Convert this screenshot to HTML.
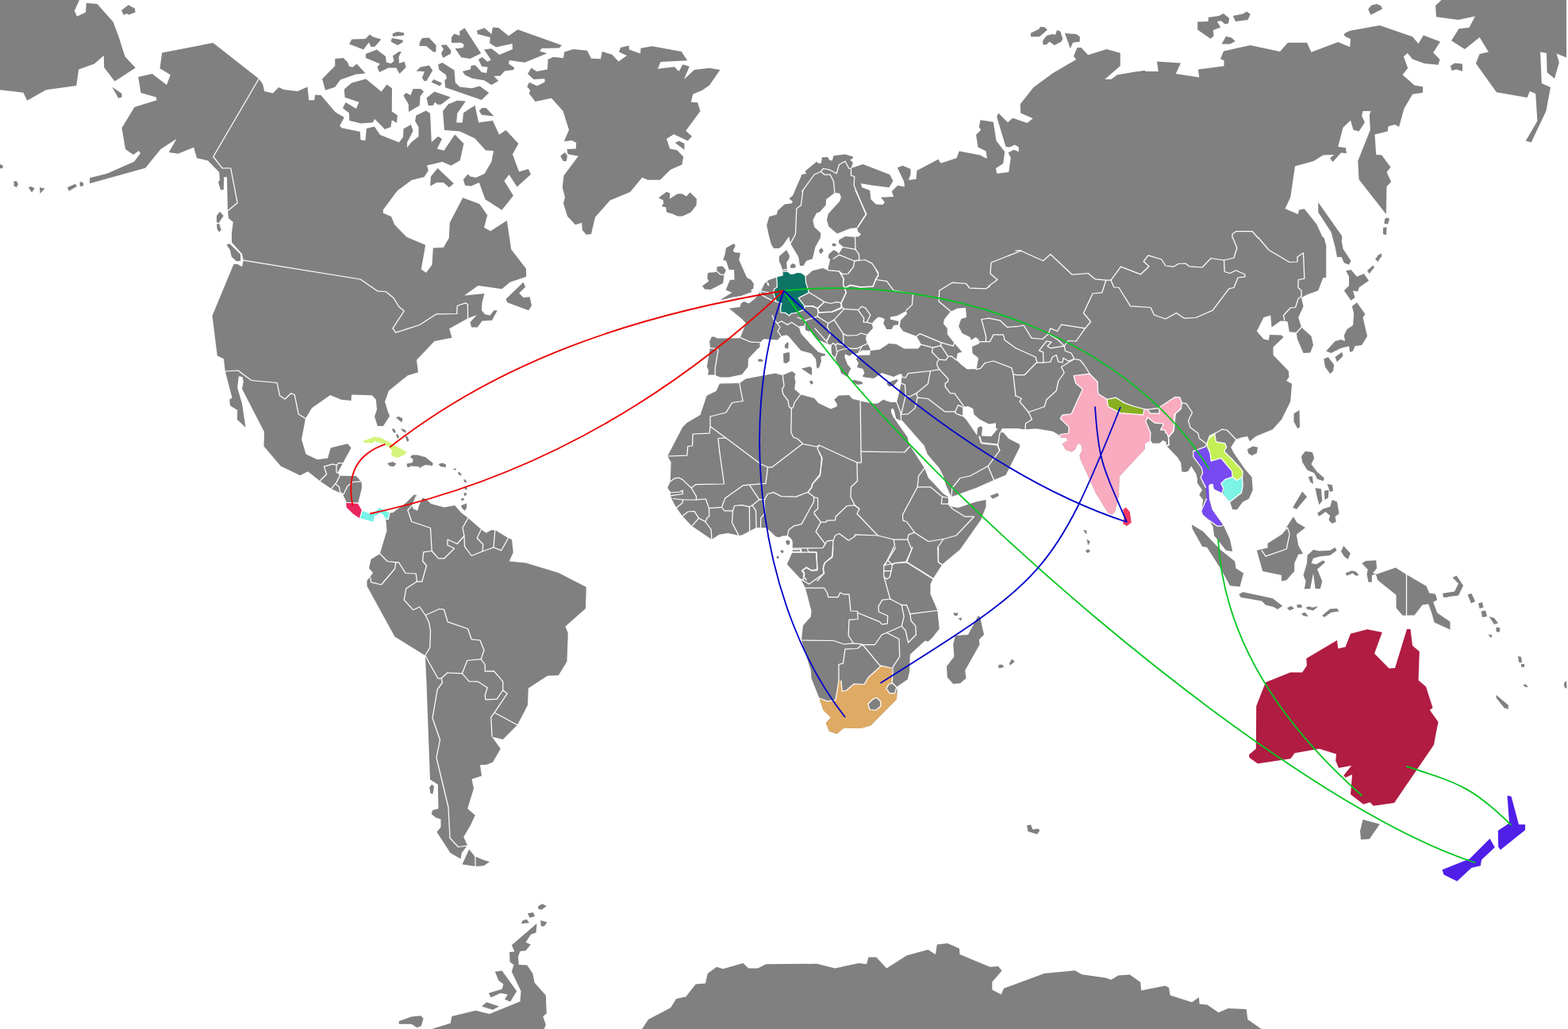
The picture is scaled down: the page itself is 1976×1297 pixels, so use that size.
<!DOCTYPE html>
<html lang="en"><head><meta charset="utf-8"><title>World travel map</title>
<style>html,body{margin:0;padding:0;background:#fff;overflow:hidden}svg{display:block}.l{fill:#808080}.h{fill:#fff}.b{fill:none;stroke:#fff;stroke-width:1.25;stroke-linejoin:round;stroke-linecap:round}.c{fill:none}</style></head><body>
<svg width="1976" height="1297" viewBox="0 0 1976 1297">
<rect width="1976" height="1297" fill="#fff"/>
<g id="land">
<polygon class="l" points="0,0 100,0 93.8,13.8 97,20.8 108,15.5 108.8,3.8 122.5,5 142.5,27.5 150,47.5 157.5,71.2 170.8,85.5 144.5,102.5 131.2,85 130.8,70 118.8,80.5 99.2,87.5 96.2,108 58,113.2 34.2,126.8 29.5,116.8 0,113.2"/>
<polygon class="l" points="153,13 161.8,6.2 170,10.8 170.5,15.5 162,18.8 160,17 155.8,19"/>
<polygon class="l" points="141.2,109.5 153.5,118 153.5,122.5 149.2,123.8"/>
<polygon class="l" points="85,236.2 95,231.8 96.8,235 86.8,240.8"/>
<polygon class="l" points="100.5,230 102.5,228.8 105.2,231.2 105,234.2 100.8,235"/>
<polygon class="l" points="50,236.2 56.5,237.5 50.5,244"/>
<polygon class="l" points="35.8,236.2 39.2,235 43.8,237.5 40,242.5"/>
<polygon class="l" points="17.5,228.8 20.5,228 23,232 20.8,236.2 17.5,234.2"/>
<polygon class="l" points="0,207 3.8,208.8 3.2,212 0,212.5"/>
<polygon class="l" points="326.2,99.2 268.5,54 204.2,66.5 201.5,86.2 214.8,94.2 210,107 191.8,93 174.2,97 177.5,117 196.8,122.5 197.5,126.2 169.5,135 153.5,161.2 158,188 168,195 175,190 177,193.2 169,203.8 135,218.8 113.2,224.2 113,231.2 183.2,211.8 202.5,188 222.5,175 212.8,192 224.5,193.8 244.2,185.8 248,199.2 262,202.5 276.2,217 277,227 275,229.5 278,239.2 281.8,239.2 282.2,223.2 286,223.2 287,265.8 287,265.8 299.2,255.8 290.8,212 280,211.8 268.8,197.5 326.2,99.2"/>
<polygon class="l" points="440,55.6 443.4,49.6 460.6,49 465.9,43.4 470,46.5 480.4,49.4 472.5,58.8 467.5,59 464.8,53.5 458.1,62.5"/>
<polygon class="l" points="494.6,42.5 500.6,40 508.8,41.2 509.4,44.6 495.2,45.9"/>
<polygon class="l" points="494,48.1 507.5,50.4 507.8,53.1 501.2,56.9 492.5,52.5"/>
<polygon class="l" points="460.9,68.1 474.8,62.5 485.9,71 486.9,78.8 492.8,80 496.5,76.9 495,70.6 502.5,65.2 505.9,65 502.5,71.5 503.1,79.8 509.8,77.8 511.6,84.8 503.5,92.9 499.4,85.6 489.4,85.6 478.1,90.9 475.4,84.6 479,80.6 460.9,72.9"/>
<polygon class="l" points="406,99.4 422.2,83.1 422.2,74 432.5,73.1 438.1,78.5 440.2,83.8 444.4,84.8 449.6,80.6 460.6,92.5 448.1,93.8 429,100.6 422.2,109.8 410,113.8"/>
<polygon class="l" points="433.8,112.5 443.1,104.4 461.2,99.4 480.6,115.6 487.5,106.6 494,111.2 493.8,140.6 500.9,145.4 500,155 493.8,151.2 492.5,160 485,162.9 472.2,150 469.8,154.4 454.4,155.6 440.2,151.9 440,142.5 431.9,136.2 435.6,129.1 448.8,137.1 452.5,128.8 434.6,122.8"/>
<polygon class="l" points="508.4,120.6 511.9,116.9 517.5,120 520.6,112.1 530,111.9 534.1,115.2 529.6,121.2 528.8,133.1 515,141 514.8,131.2"/>
<polygon class="l" points="537.5,123.4 547.5,115.6 567.9,122.5 556.2,131.6 551.9,132.1 548.1,128.8 545.6,132.9 539.8,133.1"/>
<polygon class="l" points="524.4,89.4 530,84.4 540.9,82.5 545.2,88.8 537.5,101.9 534.4,102.1 531.9,98.1 535,90.2"/>
<polygon class="l" points="543.8,103.8 546.2,100 556.9,104.6 554.6,108.5"/>
<polygon class="l" points="528.5,58.1 528.8,53.8 531.9,48.1 540.6,47.5 549.6,57.1 549.4,65.6 546.2,65.6 537.1,57.9"/>
<polygon class="l" points="555.6,57.1 562.5,56.2 568.4,63.8 568.1,67.5 558.4,73.1 556,67.1 559,61.9"/>
<polygon class="l" points="552.1,81.2 557.5,79 572.5,88.5 573.8,104 579.4,109.4 594.4,111.2 604.4,108.5 616.2,116.9 606.9,126 561.2,110.2 560.4,101.2 562.9,98.8 562.1,94.6 553.4,88.1"/>
<polygon class="l" points="569,46.9 572.5,42.5 579.4,45 579.1,39.4 585.6,35.2 606.2,67.2 592.5,74 581.2,72.2 573.5,61.2 583.4,60.2 584.8,56.2 581.2,53.8 569.1,54"/>
<polygon class="l" points="600.9,38.8 610.6,35.2 619.4,42.9 620.9,34.6 628.4,35 640.9,45.2 652.5,37.2 707.9,56.9 704.8,60.6 682.5,60.9 680,64.4 689.6,67.2 661.2,78.8 641.9,76 641,80.6 647.9,85 647.5,88.1 636,89.6 630.6,95.4 622.5,95.9 628.1,102.1 619.4,107.1 610,101.2 595,98.8 585.9,94.4 582.9,90 593.1,87.2 593.4,83.1 598.8,82.1 606.9,91 613.1,92.1 614.6,84.6 607.1,83.8 602.9,75 607.5,72.1 614.4,77.8 618.8,75.6 610,62.5 619.4,61.2 629.4,69 645.9,61.9 645.6,55 625.2,59.4 617.1,54.4 617.8,46.9 601.9,43.1"/>
<polygon class="l" points="558.1,140 565,131.2 576.2,126.8 586.8,127.5 576.2,143.1 575.2,154.4 582.8,154.4 584,142.2 598.5,132.8 603.1,154.4 620.9,152.1 629.1,169.8 637.5,164.1 653.4,180.9 645.9,194.4 654.1,216.6 665.9,213.1 669,219.8 651.5,235.4 641.6,220 635.4,227.9 646.9,246.6 632.5,264.8 611.5,251.2 603.8,230 593.8,234.4 586.2,233.8 583.8,226.6 589.6,219.4 592.5,222.5 600,223.8 610.6,219.1 619.4,203.8 622.1,190 612.1,189.6 598.5,174.4 579.4,165.4 560,164.1"/>
<polygon class="l" points="603.8,139.4 607.5,135.9 612.5,136 622.5,146.6 606.9,144.8"/>
<polygon class="l" points="542.1,234.4 542.9,222.5 551.5,211.9 571.9,231.2 566,236.2 558.8,230 550.6,230"/>
<polygon class="l" points="711.2,65.5 722.5,62 740,63.8 745,73.8 757,74.2 758.8,65 771.2,68.8 779.5,77.5 790,70 780,65.5 782,60 792.5,57.5 793,62.5 807,67.5 807.5,60.8 822,58.2 858.8,65 866.2,76.2 832.5,78 828.8,86.8 850,84.2 855.5,90 860.5,81.2 868.8,83.8 862,100 875,88 894,85.8 907.5,88 894,107.5 885,113.8 873.2,118.8 870.8,128.8 879.2,129.2 882.5,140 864.2,165 872,171.8 866.8,177.5 849.2,169.2 840,175 844.2,187.5 853.2,189.2 861.2,197.5 859.5,207.5 845,213.8 832,226.8 816.2,226.8 809.2,223.8 794.2,242 768.8,252.5 750,273.8 745,295 738.8,295.8 733.8,290 733.2,280.8 725,283.2 715,272.5 710,256.2 712,248.8 708.8,236.2 710.5,221.2 728.8,196.8 715.5,194.2 714.5,188 725.8,187.5 726.2,180 720.8,177 710.8,178.2 717,163.8 709.5,140 695,123.8 674.5,128 666.8,118 668.2,113.8 664.2,109.2 667,103.8 676.8,108.2 686.8,103.2 686.2,99.2 672.5,100 665,93 669.5,85.5 676.2,90 690,87.5 690.5,75 697.5,71.8 710,73.2"/>
<polygon class="l" points="850.8,180 855.5,177.8 862.5,180.8 862.5,188.8"/>
<polygon class="l" points="706.2,196.8 711.8,192 715,196.2 713.8,203 710,203.2"/>
<polygon class="l" points="830,249.2 840,241.8 844.5,243.8 843.8,250.8 853.8,244.2 859.5,244.2 865,247.5 869.5,242.5 878,250.8 877.5,258.8 870.8,267.5 860,272.5 853.8,272.5 847.5,269.5 840,267.5 839.2,261.2 833.8,260 836.2,256.2 835.8,252.5"/>
<polygon class="l" points="287,265.8 299.2,255.8 290.8,212 280,211.8 268.8,197.5 326.2,99.2 331.2,106.2 333.2,115 343.8,117.5 351.2,110 357.5,113 375,115 387.5,109.5 389.2,126.2 396.2,126.2 397,119.5 404.5,120 422.5,141.2 433.8,148.1 428.1,158.4 430.6,161.2 453.8,166 454.4,176.2 460.4,177.2 461.9,161.9 471.9,159.4 479,170 502.9,179.4 508.1,172.5 508.4,162.5 517.8,157.1 520.6,165 513.1,179.4 513.1,186 518.1,179.4 527.5,171.9 527.5,160 523.1,152.5 524.4,145.6 536.9,139.4 542.1,143.1 543.8,179.1 552.1,172.1 557.1,175 550.9,187.5 559.6,189.8 573.1,169.4 584.4,181 579.8,202.2 568.5,208.8 557.5,204.1 538.1,208.4 539.8,215 534.6,222.9 518.8,226.9 500.6,240.6 482.8,264.4 482.8,268.5 493.1,272.9 497.1,283.1 512.5,298.8 536.2,308.8 530.8,339.5 537,343.8 544.5,333.8 545.8,312.5 558.8,312 565.8,300 566.8,280.8 583.2,249.2 604.2,257 614.2,271.2 610,286.8 618.2,291.2 638.8,278 644.2,314.2 663,338.8 663.2,348.8 642.5,355.8 632.5,364.2 602.5,360 585,372.5 610.5,370 607.5,381.2 607,391.2 611.2,396.2 617.5,397.5 622.5,391.2 626.8,391.2 620,403.8 607.5,404.5 601.8,412.5 594.2,412.5 592.5,406.2 600.8,397 589.5,401.2 589.5,383.8 586.8,381.8 576.2,385.5 575.8,395.5 550,395.8 528.8,409.5 498.8,419.2 495,413.8 509.2,392 502.5,386.2 496.2,375.8 486.2,367.5 475.5,366.8 454.2,352 306.8,328.2 306.8,328.2 305,320 292,305.5 292,293.8 293.8,280 288,275 287,265"/>
<polygon class="l" points="306.8,328.2 454.2,352 475.5,366.8 486.2,367.5 496.2,375.8 502.5,386.2 509.2,392 495,413.8 498.8,419.2 528.8,409.5 550,395.8 575.8,395.5 576.2,385.5 586.8,381.8 589.5,383.8 589.5,401.2 589.5,401.2 566.2,414.2 569.5,425.8 547.5,430 525,453.8 527,469.2 513.8,473.2 490,492.5 485,506.2 488.8,518.8 491.2,524.2 483,537 475.8,537 472,525 475,516.2 473.8,503.8 468.8,498.2 443,497.5 442.5,505 430,503.8 416.2,498 393,514.2 385,527.5 385,527.5 376.2,522 371.2,497.5 366.8,495.8 359.2,503 352.5,498.8 349.2,482.5 316.8,479.5 300,467 283.8,468 283.8,468 282,452.5 273.8,448.2 267.5,398 294.5,333 299.5,333 305,336.2 306.8,328.2"/>
<polygon class="l" points="285.5,308.8 289.2,307 303,320.5 303.2,328.8 298,329.2 291.8,323.8 290,315"/>
<polygon class="l" points="273,272 277,266.8 281.8,272 277.5,278 275.8,281.2 273,280"/>
<polygon class="l" points="273,282.5 276.2,282 278.8,290 276.2,292.5 273.8,289.2"/>
<polygon class="l" points="637.5,377 659.5,355.8 662,361.8 654.2,369.5 659.5,375 667.5,374.2 670,385 666.2,391.2 639.2,381.2"/>
<polygon class="l" points="283.8,468 292.5,501.2 289.2,503.8 290,511.2 299.2,517 298.8,528.8 309.5,538.8 305,508.8 299.2,488.8 300.8,474.2 305.5,475 306.8,481.2 305,490 333,544.5 332.5,562.5 353.8,587.5 378.2,599.2 388,594.2 403.1,606.2 411.6,597.8 408.4,588.1 419.4,584.8 424,586.5 426.9,583.5 432.1,583.8 442.5,564.5 438,559.2 416.8,564.5 413,577.5 400,579.2 385.5,572.5 380,553.8 385,527.5 376.2,522 371.2,497.5 366.8,495.8 359.2,503 352.5,498.8 349.2,482.5 316.8,479.5 300,467 283.8,468"/>
<polygon class="l" points="403.1,606.2 417.5,615.9 432.1,623.1 436.9,633.8 451.2,634 456,615 455.6,607.5 448.8,600 427.8,599.8 425.6,595.6 432.1,583.8 426.9,583.5 424,586.5 419.4,584.8 408.4,588.1 411.6,597.8 403.1,606.2"/>
<polygon class="l" points="488.1,584 495,582.1 499.4,584.4 496.2,587.9 491.2,587.5"/>
<polygon class="l" points="516.9,576.2 519.4,573.5 526.2,573.5 536.2,576.2 545.6,583.8 545,586.9 536.2,586 530.6,588.4 529.1,590.4 527.8,587.9 516.9,587.5 516.5,588.8 513.1,588.8 512.5,584.4 520,583.1 520.6,578.8"/>
<polygon class="l" points="552.5,585 557.5,583.4 561.9,585.2 561.9,589 555,588.1"/>
<polygon class="l" points="570.9,591.2 575,590 573.8,593.1"/>
<polygon class="l" points="578.1,594.4 581.9,597.8 580,599.8 576.9,596.2"/>
<polygon class="l" points="584,604.4 586.9,604.4 588.1,608.1 585.6,608.1"/>
<polygon class="l" points="585,613.8 588.1,613.8 588.8,616.9 586.2,617.5"/>
<polygon class="l" points="584.4,621.2 587.5,621.2 588.1,624 585,625"/>
<polygon class="l" points="580.6,629 584.4,627.5 585,630 581.9,631.2"/>
<polygon class="l" points="581.2,636.9 588.1,634.4 588.1,640 585.6,643.8 581.9,640"/>
<polygon class="l" points="493.8,541.2 496.2,540 498.8,543.8 496.9,546.2"/>
<polygon class="l" points="498.8,548.1 501.2,546.9 503.1,551.2 501.2,553.1"/>
<polygon class="l" points="505,540 511.2,541.9 511.9,545.6 507.5,543.8"/>
<polygon class="l" points="510.6,550 513.1,549.4 515.6,555 513.1,556.9"/>
<polygon class="l" points="498.8,526.2 502.5,525 507.5,527.5 506.2,532.5"/>
<polygon class="l" points="491,646.5 495,646.2 512.5,633.1 521.9,623.5 526.2,624 519.4,636.9 520.6,641.2 526.2,643.8 528.1,636.9 532.5,627.5 537.5,629.4 543.1,635 560,639.4 573.1,636.9 581.2,646.2 590,653.1 606.2,667 612.5,671.8 619.5,668 625,668.8 640.5,678.2 645,680 646.8,696.2 641.8,707.5 662.5,709.5 703.8,722 738.8,740 738,767 712.5,789.5 715.8,798 714.5,833.8 703.8,851.2 690,851.8 665.8,867.5 665,888.8 652,913.8 633.8,932 620,928.8 630.8,943.8 621.2,960.5 613.8,963.8 605,964.2 607,978 594.5,982 597,993.8 589.2,1019.2 598.8,1027.5 593,1040 584.2,1055 589.2,1065.8 587.5,1067.5 581.8,1075 580.5,1082.5 567.5,1075 550.5,1048.8 555.5,1042.5 555.5,1032.5 549.5,1030.8 543.8,1026.2 545,1021.2 552.5,1019.2 551.8,988.8 542,982.5 538.2,880 537.5,860 535.8,826.2 497.5,802.5 462.5,738.8 462.5,731.8 466.2,727.5 470,722 465,716.2 467.5,705 478.8,698 487.5,668.8 486.2,654.2"/>
<polygon class="l" points="582.5,1089.5 591.2,1070.5 598.2,1079.2 608.8,1083.8 617,1086.2 609.5,1091.2 600,1092"/>
<polygon class="l" points="541.2,992.5 544.2,988.8 547,991.2 545.5,1000.8 542.5,1000"/>
<polygon class="l" points="678,1142.5 683.2,1139.2 688.8,1142 682.5,1146.8 678.2,1145.5"/>
<polygon class="l" points="665,1151.2 671.8,1150 674.2,1155 667.5,1156.8"/>
<polygon class="l" points="656.8,1164.2 658.8,1160 663.8,1158.8 666.8,1163.2"/>
<polygon class="l" points="681.2,1160 689.5,1162.5 685.8,1167.5 681.8,1167.5"/>
<polygon class="l" points="841.2,575 860,538.8 865.6,533.1 882.5,523.1 890.6,498.8 902.5,493.1 906.9,483.5 931.9,483.1 940,477.5 976.9,470.4 983.8,472.5 987.2,472.5 998.1,468.1 1002.5,471.2 1001.2,475.6 1002.5,481.2 1001.2,490.6 1008.8,497.2 1026.2,501.9 1031.2,508.1 1046.9,515.6 1054.4,512.5 1055,509.4 1051.2,503.8 1056.9,498.5 1070,498.1 1074.4,503.1 1084.4,505 1084.4,505.6 1101.2,508.8 1106.2,508.5 1113.1,503.8 1121.9,506.9 1130,506.9 1135,520 1135.6,530 1135,530 1129.4,527.5 1126.9,518.1 1125.6,515 1123.1,515.6 1123.1,520 1125.6,525.6 1143.8,551.2 1145,557.5 1146.9,562 1165,590 1170,602.5 1175,607.5 1188.8,622.5 1195,626.2 1195,635 1200,638.8 1207.5,640 1230,632.5 1242.5,630 1242.5,638.8 1236.2,655 1210,692.5 1187.5,711.2 1176.2,728.8 1172.5,736.2 1172.5,748.8 1181.2,768.8 1183.8,792.5 1175,803.8 1169.5,808.8 1165.8,807.5 1146.8,825 1146.2,846.2 1143.8,856.2 1130.5,865.5 1130.5,872.5 1130,881.2 1097.5,914.2 1085,918 1063,918 1054.5,925 1045,921.8 1040.8,911.2 1047,904.5 1037.5,895 1032.5,880 1022.5,855 1021.8,845 1010,807 1012,788.2 1021.8,777.5 1022.5,770 1015,741.2 1009.2,730 991.8,711.2 998.8,695.6 998.8,682.5 996.9,678.8 992.5,675 986.2,675.6 981.9,677.2 977.5,676.2 971.2,670 965.6,665.2 953.1,665 944.4,669.4 935,674.4 931.2,675 917.5,671.9 906.2,673.8 896.9,680 871.9,663.1 860,650.6 852.5,640 848.8,633.8 845,625 845,620 841.2,615 844.8,606.9 845.6,582.5 841.2,575"/>
<polygon class="l" points="990,682.5 992.5,680.6 995.6,681.9 995,686.2 991.9,686.9"/>
<polygon class="l" points="983.1,694.4 986.2,693.1 987.8,695.6 985.6,697.5"/>
<polygon class="l" points="978.1,701.9 980.6,700.6 981.9,702.5 980,704.8"/>
<polygon class="l" points="1232.5,776.2 1235,777.5 1240,800 1233.8,806.2 1234.5,812.5 1216.2,845 1217.5,855 1210,861.2 1201.2,862 1193.8,853.8 1193,840 1202.5,827.5 1201.2,812.5 1203.8,801.2 1220,800 1230,781.2"/>
<polygon class="l" points="1201.2,772.5 1207.5,772.5 1206.2,776.2 1202.5,775.8"/>
<polygon class="l" points="1207.5,779.5 1212,778.2 1211.2,782.5"/>
<polygon class="l" points="1258,838.2 1262.5,837.5 1265.5,840.8 1258.8,842.5"/>
<polygon class="l" points="1272,836.2 1275,830.8 1278.8,833.8 1273,838.8"/>
<polygon class="l" points="1368,694.5 1371.2,692 1373.8,694.5 1370.8,696.8"/>
<polygon class="l" points="1085,295 1082.5,298.1 1077.5,298.8 1065,298.1 1057.2,302.5 1056.9,306.2 1062.5,311.2 1056.9,320 1055,317.5 1050.6,315 1044.4,320.6 1043.8,325 1046.2,326.9 1043.1,340.6 1036.9,338.1 1023.8,341.2 1016.9,347.5 1015,347.5 1010,343.8 1005,343.1 1000,345 996.2,345 992.5,341.9 991.9,339.4 991.2,330.6 994.4,326.2 995,322.5 991.2,315 981.9,323.1 981.9,329.4 983.8,333.1 986.2,340.6 986.9,347.5 978.8,349.4 968.8,353.1 963.8,356.9 958.8,366.9 958.1,367.5 952.5,375.6 943.8,382.5 937.5,380 933.8,382.5 932.5,386.9 918.8,388.8 935,402 940,407.5 933.1,425 931.9,426.2 903.8,426.5 900.2,424.4 896.9,424.6 894.1,430.6 895,438.1 891.2,460 890.6,461.2 893.1,467.5 891.9,472.5 900.6,472.5 907.5,475.6 918.8,475.6 935,471.9 942.5,462.5 943.1,451.9 954.4,440 957.5,437.5 957.5,431.9 962.5,427.2 980,428.5 984.4,423.8 991.2,422.2 994.4,424.4 1009.4,441.9 1022.5,445.6 1028.1,452.5 1029.4,464.4 1032.5,463.1 1035,455 1034.4,449.4 1040,448.1 1040.6,446.5 1031.2,443.8 1022.5,435 1009.4,420.6 1006.9,412.5 1006.9,411.2 1014.4,410.6 1015,416.2 1018.8,417.5 1021.2,417.5 1028.8,427.5 1040,431.9 1042.5,433.8 1048.1,434.4 1047.5,438.8 1048.1,446.2 1052.5,451.2 1058.8,466.2 1060,470.6 1068.1,475 1070,468.8 1072.5,464.4 1068.1,459.4 1064.4,450 1065,446.2 1070.6,448.8 1073.8,446.2 1081.9,445 1086.2,441.5 1096.9,441.5 1096.2,438.8 1093.1,433.1 1091,427.5 1091.9,422.5 1100,413.8 1098.8,408.1 1101.9,403.8 1106.9,399.4 1111.9,400.6 1115,402.5 1113.1,407.5 1117.5,415 1123.8,415 1126.2,410 1131.9,409.4 1132.5,405 1121.9,402.5 1121.9,399.4 1130.6,398.1 1141.9,391.9 1143.1,395.6 1135,403.8 1133.8,411.2 1138.1,417.5 1155,423.8 1200,400 1200,300 1085,295"/>
<polygon class="l" points="1085,295 1081.2,291.9 1080,286.9 1071.2,288.1 1055,294.4 1044.4,285.6 1041.9,276.9 1043.8,269.4 1058.1,253.8 1060,248.8 1058.1,243.8 1051.9,243.1 1041.2,251.2 1040.6,258.8 1033.1,266.9 1028.8,268.8 1024.4,277.5 1026.2,286.2 1034.4,293.8 1033.8,300 1027.5,311.2 1023.8,326.2 1016.2,328.8 1012.5,335 1008.1,335 1006.2,323.8 996.2,306.9 994.4,298.1 986.2,309.4 981.9,312.9 975,313.1 971.9,308.1 968.8,296.2 966.2,283.8 969.4,273.1 978.8,270.6 980,265.6 988.8,257.5 998.1,256.2 998.8,253.8 994.4,250.6 999.2,246.2 1010.5,220 1016.2,218.8 1014.5,215.8 1029.2,203.8 1031.8,206.2 1035,205.5 1035.8,198.2 1043,198 1045.5,202 1048.8,202.5 1050.5,196.2 1065,194.5 1075,197.5 1074.5,200 1071.2,201.2 1075,205 1072.5,212 1087.5,207 1121.2,220 1125.5,228 1120.5,236.2 1100,233.8 1085,231.2 1086.2,236.2 1096.2,240 1097.5,251.2 1103.8,257.5 1112.5,258 1115,255 1110,248.8 1126.2,248 1123.8,241.2 1131.2,233.8 1140,235.5 1139.2,228.8 1130.8,211.2 1137.5,208.8 1147.5,213 1147.5,220 1145,227 1154.5,225.8 1155.5,215 1182.5,200.8 1185.5,205.8 1205.5,199.2 1208.8,190.5 1235,195.5 1243.8,200 1242.5,190.5 1232.5,185.5 1230,170 1236.2,163.8 1233.8,160 1235.5,151.2 1251.8,153.8 1255.5,177.5 1266.2,191.2 1264.2,206.2 1255,212 1256.2,218.8 1271.2,217 1273.8,198.8 1270.5,192.5 1277.5,188.8 1283.8,191.2 1283.8,185.5 1278.8,182.5 1272.5,185.5 1267.5,185 1256.2,147.5 1258.2,142.5 1270,154.2 1276.2,148.8 1294.5,155 1301.8,149.2 1286.2,142.5 1285.8,131.2 1302.5,110 1327.5,91.8 1356.2,75 1353,70.8 1357.5,60 1362.5,60 1371.2,69.2 1394.5,62 1411.8,66.8 1411.8,83 1385,106.2 1386.2,114.2 1393.8,113.8 1394.5,106.2 1407.5,94.5 1434,90 1465,90 1465,350 1090,350"/>
<polygon class="l" points="1298.8,41.8 1308.8,37 1311.2,33.8 1316.2,34.2 1320,37.5 1310,46.2 1299.2,46.2"/>
<polygon class="l" points="1314.2,51.2 1318.8,45 1326.2,43 1330,43.8 1332,38 1336.2,39.5 1339.2,48.8 1337.5,52.5 1328.8,57 1322.5,52.5 1318.8,56.2 1314.2,56.2"/>
<polygon class="l" points="1342,42 1356.2,43 1360.8,46.2 1360.8,52.5 1352,53.8 1348.8,61.2"/>
<polygon class="l" points="885,360.6 893.1,354.4 891.2,350 892.2,343.8 901.9,343.1 903.1,336.2 910.6,335.6 914.8,340.6 912.5,346.2 911.2,356.9 895.6,365 888.1,364.4"/>
<polygon class="l" points="915,312.5 924.8,307.1 926.9,309.6 923.8,315.6 925.2,318.1 933.1,318.8 931.2,327.5 941.2,350 946.2,352.5 949.8,357.5 949.4,363.8 946.2,365.6 947.5,368.1 933.8,373.1 923.8,374.4 910,378.1 908.8,377.2 922.5,368.8 914.6,365.6 919.8,353.1 925.6,352.5 925,340 918.8,340 915,328.8 911.2,328.1 913.8,320"/>
<polygon class="l" points="995.6,335 998.8,331.9 1002.5,333.8 1002.5,337.5 996.9,338.1"/>
<polygon class="l" points="1031.9,315.6 1035.6,312.2 1037.8,316.2 1034,320.4"/>
<polygon class="l" points="1048.1,308.1 1050.6,306.6 1054.4,308.1 1052.5,310.6 1049.4,310.2"/>
<polygon class="l" points="987.1,445.6 994.4,443.8 995.2,446.9 995,455 991.2,458.1 987.5,457.2"/>
<polygon class="l" points="988.8,435 992.5,431 993.8,433.1 993.1,439.4 989.4,438.8"/>
<polygon class="l" points="1010,464.4 1020.6,462.1 1023.1,463.8 1023.1,473.1 1018.8,470.6"/>
<polygon class="l" points="1020,480.6 1023.1,479.6 1025,483.1 1021.9,484.8"/>
<polygon class="l" points="955,453.1 958.1,452.2 962.2,454 960,455.9 955.6,455.6"/>
<polygon class="l" points="1073.8,480 1076.2,478.8 1086.2,481.2 1087.5,483.8 1081.2,485 1075,482.5"/>
<polygon class="l" points="1117.1,483.1 1130,478.1 1131.9,479.4 1126.2,486.2 1120,487.1"/>
<polygon class="l" points="1155,423.8 1161.2,434.4 1156.9,439.4 1139.4,439.4 1129.4,433.8 1120,433.1 1108.8,440.6 1096.9,441.9 1096.2,447.5 1082.5,447.8 1078.8,452.5 1081.9,457.5 1080,463.1 1087.5,465 1089.4,470 1086.9,474.4 1090,475.6 1101.2,476.9 1111.2,470 1126.2,475 1133.8,471.2 1136.9,471.9 1135.6,483.1 1133.1,495 1130,506.9 1135,520 1135.6,530 1136.9,530 1165,562 1165,562.5 1168.8,572.5 1175,580 1183.8,590 1188.8,600 1192.5,612.5 1198.8,626.2 1230,615 1252.5,605 1267.5,598.8 1277.5,578.8 1285,563.8 1285,560 1271.2,553.1 1264.4,545 1260,545.6 1263.8,538.1 1257.5,540 1249.4,550 1236.9,549.4 1238.1,538.8 1235.6,536.9 1231.9,539.4 1231.2,548.8 1217.5,528.8 1213.1,524.4 1213.1,513.1 1220,511.9 1226.2,515 1227.5,522.5 1235,528.8 1246.2,534.4 1260,532.5 1265,531.2 1268.8,538.1 1291.2,541.2 1302.5,540.6 1321.2,539.4 1327,543.8 1355,543.8 1355,387.5 1167.5,387.5"/>
<polygon class="l" points="1247.5,625 1257.5,621.2 1258.8,625 1251.2,628.8"/>
<polygon class="l" points="1375,100 1400,100 1408.8,94.5 1442.5,88.8 1450,95.8 1460,91.8 1458,77.5 1488,79.5 1481.8,93 1511.2,97.5 1510,87.5 1542.5,83.2 1542.5,76.2 1538,74.2 1542,64.5 1575.5,57 1613,65 1623,53.8 1647,53.8 1652.5,65.8 1686.2,53 1701.2,59.2 1702,49.2 1693.8,45 1694.5,42 1701.2,38.8 1738.8,32 1780,46.2 1787.5,55 1793.8,44.5 1815,52.5 1806.2,66.2 1814.5,75 1812.5,81.8 1795,80 1780,74.5 1773.8,67 1768.8,71.2 1774.2,85.8 1767.5,94.2 1782.5,107.5 1793,109.2 1793,116.8 1780,118.8 1769.5,136.8 1763,160 1758,157 1749.5,159.2 1748.8,165.5 1732.5,169.5 1734.2,195 1741.2,195.5 1752.5,210.8 1747.5,217 1753.2,229.2 1747.5,235 1746.8,270 1712.5,226.2 1711.2,203 1726.8,163.8 1725.8,145 1727.5,140 1717.5,140 1716.2,146.2 1720,154.2 1712.5,165.5 1705.5,163.8 1702,151.8 1692.5,160.8 1686.2,185 1695.8,186.2 1696.8,193.2 1690,192.5 1679.5,204.2 1676.2,199.2 1681.2,195 1667.5,195.5 1655.5,203 1632,209.5 1626.2,248.8 1619.5,263 1635.8,270 1637,264.5 1643.8,263.2 1659.2,282.5 1671.2,308.8 1671.2,324 1671.2,350 1375,350"/>
<polygon class="l" points="1661.2,255 1691.2,297.5 1691.2,302.5 1687.5,303.8 1687.5,311.2 1698.8,324 1685,324 1682.5,311.2 1677.5,292.5 1661.2,267.5"/>
<polygon class="l" points="1745,276.2 1747.5,274.2 1751.2,275.8 1748.8,282.5 1744.5,282"/>
<polygon class="l" points="1743,287 1747.5,286.2 1747,296.2 1743,295"/>
<polygon class="l" points="1735,322.5 1741.2,319.5 1741.2,324"/>
<polygon class="l" points="1509.2,27.5 1522.5,27 1523,21.8 1536.2,20 1541.8,17 1549.2,23 1548,29.5 1543.8,30.5 1538.8,26.2 1533.8,27 1538.2,34.5 1528.8,38 1529.5,45.5 1525.5,48.8 1509.2,37.5"/>
<polygon class="l" points="1553.8,20 1566.2,17.5 1571.2,14.5 1575.8,18 1572.5,25 1557,27"/>
<polygon class="l" points="1539.5,55.5 1545,45.8 1551.8,47.5 1556.8,52 1550,55.5"/>
<polygon class="l" points="1724.2,11.8 1728,6.8 1735,5 1740.5,7.5 1742,11.2 1727.5,18.8"/>
<polygon class="l" points="1816.5,0 1809,6.9 1810,21.2 1837.8,25 1859,20.6 1851.5,34.8 1838.4,36.2 1829,51.2 1845.9,61.9 1864.6,47.1 1875.9,65.6 1864.6,68.1 1859.9,80 1885.9,116.2 1924.6,123.1 1927.8,115 1935.2,118.1 1937.4,152.5 1922.8,177.5 1929.6,179.4 1948.4,140 1954,110 1942.8,105 1941.1,65.6 1949,66.9 1949.6,91.2 1959,99.1 1964.9,78.8 1961.5,67.5 1974,72.5 1974,0"/>
<polygon class="l" points="1827.8,83.1 1833.4,79.4 1842.8,80.6 1843,89.8 1835.2,87.5 1829.6,89"/>
<polygon class="l" points="1255,540 1305,540 1327,543.8 1336.2,549.5 1335.6,551.2 1344.4,551.9 1345,555.6 1338.8,559.4 1343.1,566.9 1350.6,569.4 1355,566.2 1356.9,561.2 1360,558.8 1363.1,561.9 1363.8,567.5 1360.6,573.8 1361.2,578.1 1381.2,622 1396.2,646.2 1401.2,648.8 1405,645 1410.5,622.5 1410,622 1410.6,600.6 1442.5,566.2 1443.1,558.8 1449.4,555.6 1450,555 1452.5,558.8 1461.2,558.8 1465.6,555 1469.4,556.9 1470,561.9 1483.8,576.2 1488.1,583.1 1489.4,594.4 1493.8,595 1497.5,593.8 1501.2,587.5 1507.5,597.5 1508.8,603.8 1508.8,608.8 1515,617.5 1511.2,623.8 1516.2,630 1514.2,643 1516.2,648.8 1524.5,656.2 1528.8,664.5 1530,675 1536.2,682.5 1545,693.8 1553.2,695 1550,680 1542,662.5 1540,660 1527.5,642.5 1523.8,628.8 1523,611.8 1523.1,611.9 1525,610 1528.8,610 1530,616.2 1540,621.2 1541.2,622 1550,632.5 1553.2,642 1558.8,642.5 1566.2,632.5 1573.8,628.8 1578.8,617.5 1577.5,601.2 1568.8,591.2 1555,571.2 1551.2,563.8 1557.5,553.8 1565,551.2 1572,550 1575,556.2 1582.5,550 1603.8,541.2 1615,528.8 1626.2,506.2 1628,483.8 1621.2,480 1624.5,475 1623.8,467.5 1604.5,447.5 1604.5,437.5 1617.5,425 1615,422.5 1600,422 1598.8,428.8 1592.5,427.5 1583.8,417.5 1592.5,400 1601.2,397.5 1602.5,412.5 1613.8,404.5 1622.5,405 1625,418.8 1633.8,420 1635,427.5 1642.5,445 1651.2,444.5 1655,435 1652.5,423.8 1640,412.5 1636.2,400 1642.5,386.2 1640,375 1647.5,371.2 1661.2,366.2 1668.8,346.2 1671.2,311.2 1668.8,300 1642.5,285 1630,275 1255,275"/>
<polygon class="l" points="1365,668 1369.5,668.8 1369.2,673.8"/>
<polygon class="l" points="1369.5,679.5 1373.8,682.5 1371.2,687.5"/>
<polygon class="l" points="1368,694.5 1371.2,692.5 1373.8,695 1370.5,697"/>
<polygon class="l" points="1502,661.2 1516.2,670 1537.5,692.5 1556.2,707.5 1557.5,716.2 1567,722.5 1562.5,739.5 1550,738.2 1538.8,717.5 1521.2,690 1515,688.8 1502.5,666.2"/>
<polygon class="l" points="1561.2,749.2 1566.2,746.2 1590,751.2 1603.8,754.2 1616.2,763.8 1610,768 1605,765 1595,762.5 1590,757.5 1563.8,753"/>
<polygon class="l" points="1622,766.2 1627.5,763.8 1630.8,767 1625,769.5"/>
<polygon class="l" points="1633.8,762.5 1639.5,761.8 1641.2,765.5 1635.5,766.2"/>
<polygon class="l" points="1645.8,765.5 1650,764.2 1653.8,765.8 1661.2,764.2 1655,769.5 1647.5,768"/>
<polygon class="l" points="1640,773 1645,772 1648.8,777 1642.5,776.2"/>
<polygon class="l" points="1666.2,775.8 1676.2,767.5 1685,767 1687.5,770.5 1677.5,772 1668.8,778"/>
<polygon class="l" points="1583.8,693.8 1597.5,690.5 1597.5,685 1616.2,673 1620,666.2 1630,651.2 1634.5,658.8 1645,665 1633.8,673.8 1636.2,687.5 1642,698 1636.2,698.8 1631.2,710 1631.2,720 1621.2,731.2 1615,732.5 1615,725 1591.2,720"/>
<polygon class="l" points="1647.5,700 1655,693 1662.5,694.5 1676.2,693.8 1682.5,690 1684.5,693.8 1676.2,700 1663.8,701.2 1655,703.8 1652.5,710 1658.8,711.2 1667.5,706.2 1670,708.8 1660,717.5 1666.2,732.5 1663.8,742 1657.5,742 1655,722.5 1651.2,742 1643.8,742.5 1645.5,732.5 1642.5,725 1647,710"/>
<polygon class="l" points="1690,695 1693.2,688 1701.8,697.5 1698.8,705 1693.8,701.2"/>
<polygon class="l" points="1629.2,639.5 1641.2,619.5 1647,626.2 1633.8,642"/>
<polygon class="l" points="1640,575 1645,568.8 1653.8,570 1656.2,577.5 1652.5,585 1660,595 1668.8,602.5 1667.5,606.2 1660,603.8 1656.2,596.2 1647.5,592.5 1641.2,582.5"/>
<polygon class="l" points="1657.5,615 1665,616.2 1666.2,631.2 1662.5,636.2 1660,627.5"/>
<polygon class="l" points="1668.8,618.8 1674.5,617.5 1673.8,627.5 1669.5,630"/>
<polygon class="l" points="1672.5,610 1678.8,611.2 1680,618.8 1676.2,620"/>
<polygon class="l" points="1648.8,601.2 1653.8,600 1655,610 1651.2,607.5"/>
<polygon class="l" points="1660,647 1667.5,641.2 1676.2,638.8 1678.8,630 1685,632.5 1687.5,647.5 1682.5,651.2 1683.8,657.5 1678.8,660 1674.5,655.5 1676.2,650 1670.5,645 1662.5,650.8"/>
<polygon class="l" points="1716.2,710 1721.2,707 1734.2,706.2 1735,716.2 1730,722.5 1735,723.8 1758.8,715.5 1772.5,724.2 1797.5,738.8 1801.2,747.5 1808.8,748.8 1811.2,756.2 1806.2,758.8 1811.2,772.5 1824,781.2 1827.5,783.8 1827.5,793.8 1824,792 1807.5,784.5 1804.2,772.5 1800,761.2 1792.5,762.5 1782.5,775.5 1767.5,775.8 1759.5,766.2 1759.5,750 1736.2,731.2 1733.8,723.8 1728.8,725 1728.8,733.8 1724.5,733.8 1722.5,723.8 1723.8,718"/>
<polygon class="l" points="1695.5,722.5 1703.8,719.2 1708.8,720.5 1712.5,725 1708.8,725.8 1704.5,722.5 1697.5,725.8"/>
<polygon class="l" points="1818.8,749.5 1824,748.8 1824,753 1819.5,752.5"/>
<polygon class="l" points="1630.5,521.2 1637.5,517 1638,538.8 1635,540 1630.5,531.2"/>
<polygon class="l" points="1572,566.2 1578.8,562.5 1585,563.8 1583.8,571.2 1577.5,574.2 1573,571.2"/>
<polygon class="l" points="1696.2,341.2 1702.5,340 1710,348.8 1718.8,345 1725,353.8 1712.5,362.5 1711.2,367.5 1705,366.2 1707.5,375 1702.5,378.8 1693.8,366.2 1700,360 1700,348.8"/>
<polygon class="l" points="1703.8,386.2 1710,381.2 1720.5,396.2 1717.5,400 1723,423.8 1716.2,435 1707.5,436.2 1705,442.5 1701.2,443.8 1700,436.2 1690,438.8 1677.5,445 1671.2,442.5 1682.5,430 1690,428 1695,430 1693.8,422.5 1697.5,415 1705,410 1706.2,395"/>
<polygon class="l" points="1682.5,450 1691.2,443.8 1692.5,448.8 1685,456.2"/>
<polygon class="l" points="1668.2,452.5 1673.8,450 1681.2,460 1680,467.5 1676.2,471.2 1670,462.5"/>
<polygon class="l" points="1681.2,300 1690,300 1692.5,313.8 1702.5,328.8 1700,333.8 1693.8,331.2 1686.2,313.8"/>
<polygon class="l" points="1733,326.2 1738.8,320.5 1741.2,322.5 1736.2,330"/>
<polygon class="l" points="1723,341.2 1730,334.5 1732,337 1725.5,345"/>
<polygon class="l" points="1717.5,1033 1738.8,1038.8 1725.8,1057.5 1715,1058.2 1714,1047.5"/>
<polygon class="l" points="1885.2,875.8 1900.8,888.8 1900.8,893.8 1895.8,892.5 1885.8,880"/>
<polygon class="l" points="1919.5,863.8 1922,862 1925.8,865.8 1922.5,866.2"/>
<polygon class="l" points="1970.8,861.2 1974,858 1974.5,868 1971.5,866.2"/>
<polygon class="l" points="539.6,1298.4 567.7,1289.7 569.4,1280.9 599.3,1273.8 616.8,1278.1 655.5,1262.3 656.5,1249.3 644.9,1224.7 647.4,1215.9 642.5,1212.4 642.1,1200.1 648.4,1199.4 644.9,1191.3 676.5,1163.9 675.5,1175.5 668.8,1178 662.5,1187.8 668.8,1190.6 662.5,1198.3 655.5,1199 653,1205.4 653.7,1215.9 664.2,1216.6 671.3,1227.1 673.7,1238.7 687.8,1254.5 688.8,1277.4 684.3,1280.9 687.8,1291.4 685.3,1298.4"/>
<polygon class="l" points="623.8,1224.7 632.6,1223.6 651.2,1249.3 643.2,1262.6 636.1,1259.8 639.7,1253.5 630.9,1251.7 618.6,1257.3 615.8,1251.7 632.6,1246.8 634.4,1240.5 628.4,1235.9"/>
<polygon class="l" points="607,1268.6 613.3,1263.3 629.1,1268.6 621,1272.8"/>
<polygon class="l" points="502.7,1287.2 518.5,1281.6 530.1,1280.2 533.6,1283.7 530.8,1293.2 525.5,1295.3 518.5,1290.7 502.7,1290.7"/>
<polygon class="l" points="808.2,1298.4 817,1285.1 845.1,1270.3 852.1,1259.1 864.4,1256.3 876.7,1240.5 889,1239.4 891.8,1227.1 903.1,1218.7 911.1,1221.2 936.4,1214.1 943.4,1220.5 955,1220.5 965.2,1215.2 1029.5,1214.8 1052.3,1220.5 1082.2,1214.1 1092,1215.2 1094.5,1206.4 1104.3,1206.4 1117.3,1220.5 1142.8,1204.3 1169.5,1196.9 1179,1202.9 1180.8,1190.6 1194.1,1188.9 1208.9,1195.5 1209.6,1202.9 1247.5,1218.7 1258,1218 1262.6,1223.6 1250.3,1237.7 1250.3,1247.5 1261.6,1253.5 1265.1,1245.8 1316,1227.1 1354.6,1223.3 1363.4,1228.2 1393.3,1232.4 1400.3,1234.9 1409.1,1229.6 1423.8,1228.5 1437.2,1238 1438.2,1248.6 1468.1,1242.6 1473,1244.7 1474.7,1254.5 1502.1,1263.3 1510.9,1257 1511.6,1265.4 1521.5,1266.5 1535.5,1276.3 1547.8,1271 1570.6,1272.1 1572.4,1285.1 1591.7,1298.4"/>
<polygon class="l" points="1180,330 1280,330 1280,400 1180,400"/>
<polygon class="l" points="1818,748 1833,745.5 1838,735.5 1830.5,728 1835.5,725.5 1844,738 1838,750.5 1819,753"/>
<polygon class="l" points="1849.5,749.5 1854.5,748 1859,758 1854,760.5"/>
<polygon class="l" points="1863,760.5 1868,759 1869.5,765.5 1864.5,767"/>
<polygon class="l" points="1866.5,770.5 1872,769.5 1874,777 1868,778"/>
<polygon class="l" points="1876.5,777 1883,779 1888,785.5 1883,787"/>
<polygon class="l" points="1885.5,790.5 1890.5,791.5 1889.5,797 1885.5,796"/>
<polygon class="l" points="1875.5,799.5 1880.5,800.5 1879,804.5"/>
<polygon class="l" points="1913,827 1917,828 1918,835.5 1914,834.5"/>
<polygon class="l" points="1917,837 1921,837 1921,841 1917,840.5"/>
<polygon class="l" points="1294,1040.5 1299,1039.5 1301.5,1045.5 1308,1044.5 1310.5,1046.5 1307,1051.5 1295.5,1048"/>
</g>
<g id="hole">
<polygon class="h" points="1197.5,393.1 1206.2,388.8 1216.9,388.1 1218.1,400 1211.2,401.9 1208.1,411.2 1212.5,420 1222.5,425 1223.8,428.8 1229.4,425 1233.1,427.5 1234.4,433.1 1225,436.9 1225.6,445.6 1233.1,451.2 1230.6,465 1218.8,465.6 1211.2,459.4 1205,453.8 1206.9,445 1212.5,443.8 1202.5,432.5 1193.8,421.2 1193.8,413.8 1188.8,408.1 1190,402.5"/>
<polygon class="h" points="965.6,354.4 968.8,356.9 969.4,360.6 967.5,360"/>
</g>
<g id="fill">
<polygon fill="#e9265f" points="436.2,633.5 450.9,634.8 455.8,643.1 452.9,653.1 445,647.8 436.6,639.4"/>
<polygon fill="#76f3e6" points="456.9,644 466.2,647.8 472.2,645.6 478.4,640.2 482.5,642.5 491,646.5 489.4,654.4 486.2,654.4 482.9,648.5 478.8,646.2 471.9,650.9 470.4,657.8 454,653.1"/>
<polygon fill="#d4f47c" points="457.5,555.9 471.9,550.6 480.6,551.9 495,560 513.1,570 508.5,573.8 501.2,577.1 493.8,575 493.1,570.6 495,568.8 490.6,564.4 485.6,559.8 475.6,557.5 473.5,556 468.8,558.5 458.8,557.9"/>
<polygon fill="#dfaa63" points="1032.5,880 1042.5,883.8 1053,882.5 1057,858 1060,858 1061.2,871.2 1066.2,870.5 1076.2,862 1089.2,862.5 1094.2,853.8 1110.5,839.2 1123.2,842 1125,850 1124.2,860.8 1120,862.5 1117,868 1121.2,873.8 1127.5,873.8 1130.5,872.5 1130,881.2 1097.5,914.2 1085,918 1063,918 1054.5,925 1045,921.8 1040.8,911.2 1047,904.5 1037.5,895"/>
<polygon fill="#0c7566" points="986.9,342.5 992.5,341.9 996.2,345 1000,345 1005,343.1 1010,343.8 1015,347.5 1015.6,356.2 1017.5,361.9 1019.4,368.8 1006.2,375.6 1014.4,386.2 1012.5,390.6 1003.1,394.4 997.5,395 994.4,397.8 990,394.4 983.8,393.8 983.8,386.9 985,382.5 978.1,380 975,370 975.6,364.4 979.4,361.9 978.8,349.4 986.9,347.5"/>
<polygon fill="#f9abbf" points="1353.1,473.5 1373.1,471.2 1383.1,481.2 1383.8,496.2 1395,503.4 1396.5,512.5 1411.9,520.6 1440.6,522.9 1441.9,515.6 1446.2,516.2 1449.4,521.2 1461.2,521.2 1460.6,513.8 1480.6,500.4 1486.9,500.9 1489.4,508.1 1488.1,515.6 1481.2,521.2 1479.4,541.9 1472.5,551.2 1470.6,546.2 1468.8,545.6 1468.1,541.9 1462.5,541.9 1466.2,535 1465,533.8 1455,533.1 1446.2,525.9 1443.8,531.2 1450,545.6 1449.4,555.6 1443.1,558.8 1442.5,566.2 1410.6,600.6 1410,622 1410.5,622.5 1405,645 1401.2,648.8 1396.2,646.2 1381.2,622 1361.2,578.1 1360.6,573.8 1363.8,567.5 1363.1,561.9 1360,558.8 1356.9,561.2 1355,566.2 1350.6,569.4 1343.1,566.9 1338.8,559.4 1345,555.6 1344.4,551.9 1335.6,551.2 1336.2,547.5 1346.9,546 1346.9,538.1 1336.2,527.5 1338.8,523.1 1350,521.9 1364.4,490.6 1355.6,483.1 1353.1,473.5"/>
<polygon fill="#88b020" points="1395,503.4 1406.2,501.2 1417.5,508.1 1430,512.5 1440,515 1440.6,522.9 1411.9,520.6 1396.5,512.5"/>
<polygon fill="#784af2" points="1503.8,568.8 1518.8,563.1 1525,571.2 1526.2,581.2 1538.8,577.5 1552.5,593.8 1553.1,601.2 1543.8,604.4 1538.8,609.4 1541.9,615.6 1540,621.2 1530,616.2 1528.8,610 1525,610 1523.1,611.9 1523.8,628.8 1527.5,642.5 1540,660 1538.8,663 1533.8,663 1516.2,648.8 1514.2,643 1520.5,628.8 1519.4,614.4 1513.1,601.9 1515.6,596.2 1514.4,590 1503.8,575.6 1503.8,568.8"/>
<polygon fill="#c4f055" points="1520.6,560 1524.4,549.4 1530.6,546.2 1532.5,556.9 1543.8,558.8 1545.6,563.8 1542.5,568.8 1553.8,580 1563.1,590 1566.2,594.4 1565.6,601.2 1558.8,605.6 1555,602.5 1553.1,601.2 1552.5,593.8 1538.8,577.5 1526.2,581.2 1525,571.2"/>
<polygon fill="#7bf3e5" points="1538.8,609.2 1543.8,604.2 1553,601.2 1558.8,605.5 1565.5,601.2 1566.2,612.5 1564.5,621.2 1550,632.5 1541.2,622 1542.5,615.5"/>
<polygon fill="#f03a5f" points="1415,642.5 1418.8,639.5 1423.8,645 1425.8,658.8 1420,663 1415,660 1417,651.2"/>
<polygon fill="#b01c42" points="1583.2,890 1590,872.5 1595,860 1626.2,847.5 1641.2,847.5 1647,838.8 1646.2,830 1685,807 1686.2,817.5 1695.5,815.5 1702,798.8 1723,793.2 1741.8,797 1732,823.8 1750.5,842.5 1758,842 1773,793 1777.5,793 1780,813.8 1788.8,821.2 1787.5,857.5 1797,865.5 1805.5,892 1801.8,895 1812.5,910 1809,927.5 1807,938.8 1757,1012 1730.8,1015.8 1726.5,1011.2 1718.2,1013.8 1702,1001.2 1704,976.2 1695.8,980 1693.2,977.5 1703.2,965 1687,968 1683.2,958.8 1684,950.5 1662.5,943.8 1631.5,949.2 1626.5,956.2 1585,962.5 1574.5,955 1574,951.2 1582.8,943.8"/>
<polygon fill="#4f1fe8" points="1899.5,1003 1904.5,1003.8 1914,1039.2 1922,1039.2 1922,1046.2 1890.8,1071.2 1888.2,1067.5 1887.8,1047 1902,1037.5"/>
<polygon fill="#4f1fe8" points="1817.5,1096.2 1852,1082.5 1877.5,1057 1883.8,1068 1867,1083.8 1865.8,1091.2 1854.5,1093.8 1836.2,1110.8 1819.5,1102.5"/>
</g>
<g id="land2">
<polygon class="l" points="1093.8,887.5 1100,881.2 1105,879.5 1109.5,883.8 1110,890 1103.8,895 1096.2,894.5"/>
<polygon class="l" points="1117,868 1120,862.5 1125,861.2 1130,866.2 1127.5,873.8 1121.2,873.8"/>
</g>
<g id="border">
<polyline class="b" points="326.2,99.2 268.8,197.5 280,211.8 290.8,212 299.2,255.8 287,265.8"/>
<polyline class="b" points="306.8,328.2 454.2,352 475.5,366.8 486.2,367.5 496.2,375.8 502.5,386.2 509.2,392 495,413.8 498.8,419.2 528.8,409.5 550,395.8 575.8,395.5 576.2,385.5 586.8,381.8 589.5,383.8 589.5,401.2"/>
<polyline class="b" points="283.8,468 300,467 316.8,479.5 349.2,482.5 352.5,498.8 359.2,503 366.8,495.8 371.2,497.5 376.2,522 385,527.5"/>
<polyline class="b" points="403.1,606.2 411.6,597.8 408.4,588.1 419.4,584.8 424,586.5 426.9,583.5 432.1,583.8"/>
<polyline class="b" points="424,586.5 424,595.6 426,595.9"/>
<polyline class="b" points="417.5,615.9 424,608.1 428.1,599.8"/>
<polyline class="b" points="422.5,609.8 427.5,613.8 428.4,620 432.1,623.1"/>
<polyline class="b" points="432.1,623.1 433.1,622.5 438.1,612.5 445,607.5 455,606.9"/>
<polyline class="b" points="436.9,633.5 451.2,634"/>
<polyline class="b" points="491,646.5 489.4,654.4 486.2,654.4"/>
<polyline class="b" points="478.8,698 488.2,707.5 498.8,708.8 502.5,708.8 511.2,722.5 524.2,723 525.5,733"/>
<polyline class="b" points="498.8,708.8 497.5,717 480.5,737 467.5,733.8 467,728"/>
<polyline class="b" points="525.5,733 531.8,733 537.5,713 532.5,707 533.8,695.8 544.2,694.5 542.5,665.5 518.8,657.5 513.8,643 519.5,637 525,624.5"/>
<polyline class="b" points="544.2,694.5 552.5,703.8 560,703.8 572.5,691.2 563.8,687 564.2,680 576.2,685.5 585,675.5 583,665 590,653"/>
<polyline class="b" points="585,675.5 585.5,688.8 594.2,700.5 608,695 622,690 631.8,693.8 640.5,678.2"/>
<polyline class="b" points="608,695 608.8,686.2 601.2,678.2 606.2,667.5"/>
<polyline class="b" points="622,690 623.8,668.8"/>
<polyline class="b" points="525.5,733 511.8,741.8 509.2,756.2 520.8,768.8 528.8,765 536.2,775.5 540.5,784.2 542.5,795 541.8,816.2 535.8,826.2 551.8,855 556.2,855"/>
<polyline class="b" points="536.2,775.5 553.8,767.5 559.5,768.2 564.2,783.8 589.5,792.5 594.2,805.8 605,807 610,819.5 606.2,830.8 588.8,832.5 582.5,848.8 563.8,848 556.2,855 557.5,860.5 551.2,868.8 545,905 554.5,932.5"/>
<polyline class="b" points="606.2,830.8 611.2,837.5 611.2,846.2 622.5,845.8 633.8,859.2 633.8,870 639.2,874.2 623.2,898.2 652,913.8"/>
<polyline class="b" points="582.5,848.8 591.2,858.8 602.5,859.2 614.2,866.8 611.2,876.2 612,881.8 626.2,881.2 633.8,870"/>
<polyline class="b" points="623.2,898.2 618.8,903.8 620,928"/>
<polyline class="b" points="554.5,932.5 550,955 565,1017.5 567,1056.2 577.5,1067.5 588.8,1066.2"/>
<polyline class="b" points="598.8,1079.2 599.2,1092"/>
<polyline class="b" points="1093.8,887.5 1100,881.2 1105,879.5 1109.5,883.8 1110,890 1103.8,895 1096.2,894.5 1093.8,887.5"/>
<polyline class="b" points="1117,868 1120,862.5 1125,861.2 1130,866.2 1127.5,873.8 1121.2,873.8 1117,868"/>
<polyline class="b" points="1015,741.2 1038.8,741.2 1042.5,747.5 1043.8,752.5 1056.2,752.5 1058.8,747 1063.8,749.2 1070,749.2 1072,770 1080.5,770.5 1081.2,780.5 1070,781.2 1069.2,801.2 1075,810"/>
<polyline class="b" points="1010,807 1050,807.5 1063.8,812 1075,810.8 1086.2,811.8"/>
<polyline class="b" points="1086.2,812.5 1080.5,817.5 1065,818.2 1062.5,836.2 1057,837.5 1057,858 1053,882.5 1042.5,883.8 1032.5,880"/>
<polyline class="b" points="1060,858 1061.2,871.2 1066.2,870.5 1076.2,862 1089.2,862.5 1094.2,853.8 1110.5,839.2 1123.2,842"/>
<polyline class="b" points="1086.2,812.5 1089.2,815 1108.8,838.8 1110.5,839.2"/>
<polyline class="b" points="1086.2,812.5 1102.5,812.5 1111.2,800 1117.5,797.5 1133,805.5 1133.8,827.5 1125,841.2 1125,850 1124.2,860.8"/>
<polyline class="b" points="1081.2,772.5 1108.8,783.8 1111.2,786.8 1118.2,786.2 1118.8,776.2 1107.5,771.2 1107,764.2 1112,756.2 1121.8,755 1136.2,762.5 1142.5,762.5"/>
<polyline class="b" points="1136.2,762.5 1139.2,777.5 1136.2,789.2 1117.5,797.5"/>
<polyline class="b" points="1136.2,789.2 1141.2,795 1144.5,810 1154.5,800 1153.8,788.8 1148.2,782.5 1146.8,773.8 1142.5,762.5"/>
<polyline class="b" points="1146.8,773.8 1181.2,769.5"/>
<polyline class="b" points="1121.8,755 1113.8,726.2 1113.8,712.5 1118.8,706.2 1128.8,690"/>
<polyline class="b" points="1118.8,706.2 1124.5,712 1123.2,719.5 1113.8,719.5"/>
<polyline class="b" points="1123.2,719.5 1121.2,727.5 1117.5,730 1114.5,727.5"/>
<polyline class="b" points="1124.5,712 1127.5,709.5 1142,708 1150,690"/>
<polyline class="b" points="1142,708 1176.2,729.2"/>
<polyline class="b" points="1182.5,690 1182.5,708.8 1188,712"/>
<polyline class="b" points="1009.2,730 1019.5,736.2 1038.8,722.5 1037,717.5 1038.8,710 1048.8,701.2 1050,690"/>
<polyline class="b" points="998.8,696.2 1028.8,696.2 1030,717.5 1022.5,718.8 1016.2,715 1010.5,719.5 1013.8,723.8 1012.5,730 1009.2,731.2"/>
<polyline class="b" points="998.8,692.5 1009.5,692.5 1010,696.2"/>
<polyline class="b" points="844.8,606.9 850,603.1 855.6,602.2 860,604.4 871.2,615 877.5,625.6 877.5,629.8"/>
<polyline class="b" points="871.2,615 876.9,610.6 912.5,610 906.9,570"/>
<polyline class="b" points="845,621 856.9,620 860,618.1 860.6,622.5 845,624.8"/>
<polyline class="b" points="848.8,628.5 860.6,630 877.5,629.8 889.4,629 893.5,640.6 893.8,650.6 891.2,652.5 888.8,657.5 880.6,653.1 875,644.4 866.9,645 860,650.6"/>
<polyline class="b" points="860.6,630 860,633.8 852.5,640"/>
<polyline class="b" points="880.6,653.1 871.9,663.1"/>
<polyline class="b" points="888.8,657.5 896.2,667.5 896.9,680"/>
<polyline class="b" points="893.5,640.6 909.4,639.4 913.8,628.1 936.2,611.9 944.4,611.2 965,609.4 967.5,588.8"/>
<polyline class="b" points="909.4,639.4 913.1,643.8 923.5,643.8 925.6,637.5 935,636.6 944.4,638.8 948.1,636.9 956.9,629.8 960.6,629.4 963.1,630.6 963.8,646.9 958.8,653.1 958.5,665"/>
<polyline class="b" points="944.4,611.2 956.9,629.8"/>
<polyline class="b" points="923.5,643.8 922.5,658.8 930.6,674.4"/>
<polyline class="b" points="944.4,638.8 944.8,669.4"/>
<polyline class="b" points="948.1,636.9 952.5,643.8 953.1,665"/>
<polyline class="b" points="963.1,630.6 967.5,622.5 975,620.6 984.4,625.6 1003.1,626.2 1018.1,620.4 1023.1,613.8 1023.8,610 1033.1,600 1036.2,577.5 1032.5,570"/>
<polyline class="b" points="1018.1,620.4 1025.6,626.2 1025.6,632.5 1010,660.6 1000.6,662.8 993.8,668.1 992.5,675"/>
<polyline class="b" points="1026.2,626.9 1030.6,627.5 1030.6,641.2 1026.2,645 1026.2,647.5 1034.4,658.1 1041.2,658.1 1041.9,656.2 1052.5,655.6 1053.1,651.2 1067.5,637.5 1077,636.9"/>
<polyline class="b" points="1034.4,658.1 1028.1,670 1040,685.6 1042.5,681.9 1050,681.2 1052.5,675 1057.5,672.5 1069.4,681.2 1077,676.2"/>
<polyline class="b" points="998.8,691.2 1036.9,690.6 1040,685.6"/>
<polyline class="b" points="998.8,695.6 1008.8,695.6 1009,692.2"/>
<polyline class="b" points="1017.5,691.9 1018.8,695.6 1028.8,696.2 1030,718.8 1023.1,719.4 1016.2,715.6 1011.2,718.8 1013.8,721.9 1012.5,726.2 1016.2,731.2"/>
<polyline class="b" points="1050,681.2 1048.8,702.5 1040,708.8 1037.5,715 1038.1,723.1 1030,732"/>
<polyline class="b" points="841.2,575 865.8,574.2 866.8,562.5 872.5,562 873.2,547 894.2,546.2 895,537.5 895,525 915,520 922.5,507.5 936.2,505.5 931.8,483"/>
<polyline class="b" points="906.8,570 905,552.5 914.5,551.8"/>
<polyline class="b" points="895,537.5 914.5,551.8 958.8,585 967.5,588.8 973,588.8 1011.2,559.5 1028.8,563 1032.5,561.2 1080,583 1085.5,583 1085,568.8 1084.2,505.5"/>
<polyline class="b" points="1011.2,558.8 1005,553 1000,551.2 996.8,545 997.5,515.5 996.2,514.2"/>
<polyline class="b" points="1032.5,561.2 1030,565 1035.5,577 1033.8,597.5 1023.8,610 1022.5,615 1018.2,620.5"/>
<polyline class="b" points="1085,569.2 1140,570 1146.2,563"/>
<polyline class="b" points="1080,583 1080.5,606.2 1072.5,613.8 1072,626.2 1077.5,637.5 1083,641.2 1080,647.5 1106.2,675 1126.2,680 1143.8,680 1145,673.8 1152.5,671.2"/>
<polyline class="b" points="1077,636.8 1083,641.2"/>
<polyline class="b" points="1077,676.2 1077.5,673.8 1106.2,675"/>
<polyline class="b" points="1165,590 1157.5,600 1156.2,613.8 1137.5,648.8 1138,656.2 1142.5,657.5 1152.5,671.2 1170,682.5 1188.8,679.5 1205,675 1227.5,651.2 1216.2,651.2 1200,641.2 1195,635"/>
<polyline class="b" points="1156.2,613.8 1172.5,613.8 1187.5,626.2 1186.2,635 1195,635"/>
<polyline class="b" points="1187.5,626.2 1195,627.5"/>
<polyline class="b" points="1188.8,679.5 1181.8,690 1182.5,708.8 1187.5,712"/>
<polyline class="b" points="1143.8,680 1148.8,692.5 1142.5,708.8 1176.2,730"/>
<polyline class="b" points="1126.2,680 1127.5,687.5 1118.8,705 1115,712.5 1127.5,710 1142.5,708.8"/>
<polyline class="b" points="986.2,472.5 988.1,486.2 985.6,490.6 986.9,496.9 993.1,505 994.4,512.5 996.2,514.4 999.4,513.8 1001.2,507.5 1008.8,497.2"/>
<polyline class="b" points="1130,506.9 1135,520 1135.6,530"/>
<polyline class="b" points="903.1,336.9 902.5,341.2 908.1,346.2 912.5,346.2"/>
<polyline class="b" points="1335.6,551.2 1336.2,547.5 1346.9,546 1346.9,538.1 1336.2,527.5 1338.8,523.1 1350,521.9 1364.4,490.6 1355.6,483.1 1353.1,473.5 1373.1,471.2 1383.1,481.2 1383.8,496.2 1395,503.4 1406.2,501.2 1417.5,508.1 1430,512.5 1440,515 1441.9,515.6 1446.2,516.2 1460.6,514.4 1460.6,513.8 1480.6,500.4 1486.9,500.9 1489.4,508.1 1488.1,515.6 1481.2,521.2 1479.4,541.9 1472.5,551.2 1470.6,546.2 1468.8,545.6 1468.1,541.9 1462.5,541.9 1466.2,535 1465,533.8 1455,533.1 1446.2,525.9 1443.8,531.2 1450,545.6 1449.4,555.6"/>
<polyline class="b" points="1395,503.4 1396.5,512.5 1411.9,520.6 1440.6,522.9 1441.9,515.6"/>
<polyline class="b" points="1446.2,516.2 1449.4,521.2 1461.2,521.2 1460.6,514.4"/>
<polyline class="b" points="1472.5,551.2 1473.1,560 1470,561.9"/>
<polyline class="b" points="1503.8,568.8 1518.8,563.1 1520.6,560 1524.4,549.4 1530.6,546.2 1532.5,556.9 1543.8,558.8 1545.6,563.8 1542.5,568.8 1553.8,580 1563.1,590 1566.2,594.4 1565.6,601.2"/>
<polyline class="b" points="1520.6,560 1525,571.2 1526.2,581.2 1538.8,577.5 1552.5,593.8 1553.1,601.2 1543.8,604.4 1538.8,609.4 1541.9,615.6 1540,621.2"/>
<polyline class="b" points="1553.1,601.2 1555,602.5 1558.8,605.6 1565.6,601.2"/>
<polyline class="b" points="1503.8,568.8 1503.8,575.6 1514.4,590 1515.6,596.2 1513.1,601.9 1519.4,614.4"/>
<polyline class="b" points="1565.5,601.2 1566.2,612.5 1564.5,621.2 1550,632.5"/>
<polyline class="b" points="1520.5,628.8 1514.2,643"/>
<polyline class="b" points="1524.5,656.2 1533.8,663 1538.8,663 1541.2,662.5"/>
<polyline class="b" points="1590,693.8 1595,701.2 1621.2,692 1625,673.8"/>
<polyline class="b" points="1616.2,671.2 1622.5,665 1625,672.5"/>
<polyline class="b" points="1772.5,724.2 1772.5,775.8"/>
<polyline class="b" points="1011.9,240 1009.4,258.8 1003.8,263.1 1002.5,295 996.2,306.9"/>
<polyline class="b" points="1078.1,240 1091.9,270 1080.6,286.9"/>
<polyline class="b" points="1077.5,298.8 1078.1,314.4 1062.5,311.5"/>
<polyline class="b" points="1078.1,314.4 1082.5,320.6 1082.8,327.5 1076.9,329 1057.5,321.2 1050,326.2"/>
<polyline class="b" points="1076.9,329 1090,327.5 1098.8,331.9 1105,341.2 1107,343.8"/>
<polyline class="b" points="1076.9,329 1075.6,336.2 1068.8,345 1061.9,345.6 1057.5,341.9 1043.1,340.6"/>
<polyline class="b" points="1057.5,341.9 1063.1,351.2 1062.5,358.8 1064.4,363.1 1066.2,368.8 1062.5,377.5 1060,381.9"/>
<polyline class="b" points="1015,347.5 1015.6,356.2 1017.5,361.9 1019.4,368.8 1026.2,372.5 1038.8,380.6 1047.5,382.5 1054.4,380.6 1060,381.9"/>
<polyline class="b" points="1019.4,368.8 1006.2,375.6 1014.4,386.2 1022.5,385.6 1030.6,388.8 1038.8,380.6"/>
<polyline class="b" points="1030.6,388.8 1031.9,393.8 1048.8,393.1 1060,388.8 1060,381.9"/>
<polyline class="b" points="994.4,397.8 997.5,395 1003.1,394.4 1012.5,390.6 1014.4,386.2"/>
<polyline class="b" points="1064.4,363.1 1072.5,359.4 1083.8,361.9 1100,361.2 1103.8,351.2 1107,347.5"/>
<polyline class="b" points="978.8,349.4 979.4,361.9 975.6,364.4 975,370 978.1,380 985,382.5 983.8,386.9 983.8,393.8 990,394.4 994.4,397.8"/>
<polyline class="b" points="958.8,366.9 975,370"/>
<polyline class="b" points="958.1,367.5 960,371.9 971.9,378.1 978.1,380"/>
<polyline class="b" points="986.2,340.6 991.9,339.4"/>
<polyline class="b" points="986.9,342.5 992.5,341.9 996.2,345 1000,345 1005,343.1 1010,343.8 1015,347.5"/>
<polyline class="b" points="1011.8,240 1010.8,241.2 1026.2,220 1034.5,216.2 1037.5,212.5 1045,213.8 1054.2,218.8 1057.5,207.5 1065,203.2 1070,212.5 1072.5,212"/>
<polyline class="b" points="1034.5,216.2 1038.8,220 1046.2,220 1050.5,228.8 1051.8,242.5"/>
<polyline class="b" points="1072.5,212.5 1072.5,221.2 1076.8,222.5 1076.2,233.8 1091.2,270 1080.8,286.2"/>
<polyline class="b" points="895,438.8 903.1,439.4 905,441.9 901.2,463.8 901.2,472.5"/>
<polyline class="b" points="933.1,425.6 946.2,431.2 957.5,431.5"/>
<polyline class="b" points="984.4,423.8 980,417.5 983.1,412.5 979.4,407.5 985,405"/>
<polyline class="b" points="985,405 992.5,409.4 997.5,406.2 1006.9,412.5"/>
<polyline class="b" points="979.4,407.5 975,402.5 973.1,397.5"/>
<polyline class="b" points="1060,381.9 1066.2,368.8 1064.4,363.1 1062.5,358.8 1063.1,351.2 1057.5,341.9"/>
<polyline class="b" points="1064.4,363.1 1071.2,359.4 1083.8,361.9 1100,361.2 1103.8,352.5 1106.9,345.6 1103.8,340"/>
<polyline class="b" points="1103.8,352.5 1117.5,354.4 1126.2,366.2 1150.6,370.6 1149.4,384.4 1141.9,391.2"/>
<polyline class="b" points="1060,381.9 1061.2,387.5 1063.8,389.4 1081.2,390.6 1086.2,386.2 1090.6,388.1 1096.9,396.9 1092.5,406.2 1099.4,408.1"/>
<polyline class="b" points="1081.2,390.6 1088.8,401.2 1088.1,406.2 1092.5,406.2"/>
<polyline class="b" points="1014.4,386.2 1024.4,385.6 1030,388.8 1038.8,380.6"/>
<polyline class="b" points="1030,388.8 1031.2,393.8 1048.1,393.1 1060,387.5"/>
<polyline class="b" points="1031.2,393.8 1030,398.8 1043.8,407.5 1051.2,403.1 1063.8,389.4"/>
<polyline class="b" points="1051.2,403.1 1062.5,420.6 1067.5,423.1 1080,422.5 1085,420 1091.9,421.9"/>
<polyline class="b" points="1062.5,420.6 1063.1,435 1071.2,439.4 1080,439.4 1086.2,436.2 1093.1,433.1"/>
<polyline class="b" points="1043.8,407.5 1042.5,412.5 1046.9,420 1041.9,430.6 1043.1,433.8"/>
<polyline class="b" points="1026.9,413.8 1041.2,430 1046.9,420"/>
<polyline class="b" points="1030,398.8 1015,403.8 1014.4,410.6"/>
<polyline class="b" points="1005,400 1015,403.8"/>
<polyline class="b" points="1052.5,451.2 1055.6,442.5 1062.5,440 1071.2,439.4"/>
<polyline class="b" points="1048.1,434.4 1050,432.5 1053.1,435 1054.4,442.5 1055.6,442.5"/>
<polyline class="b" points="1053.1,435 1054.4,433.1 1063.1,435"/>
<polyline class="b" points="1081.9,445 1086.2,436.2"/>
<polyline class="b" points="1183.8,366.2 1200,356.2 1217.5,357.5 1221.9,363.1 1242.5,363.8 1247,361.2"/>
<polyline class="b" points="1183.8,366.2 1183.1,380 1198.1,392.5"/>
<polyline class="b" points="1155,423.8 1159.4,420.6 1186.2,431.9 1201.2,436.2 1202.5,432.5"/>
<polyline class="b" points="1161.2,434.4 1175.6,438.1 1185.6,435.6 1186.2,431.9"/>
<polyline class="b" points="1175.6,438.1 1174.4,443.8 1183.8,453.1 1191.9,453.8 1195,449.4 1185.6,435.6"/>
<polyline class="b" points="1195,449.4 1198.8,448.8 1205,453.8"/>
<polyline class="b" points="1183.8,453.1 1181.2,455.6 1180.6,460 1183.8,465.6"/>
<polyline class="b" points="1136.2,475 1141.2,476.2 1144.4,470.6 1172.5,467.5 1183.8,465.6"/>
<polyline class="b" points="1172.5,467.5 1169.4,483.8 1155,495.6 1146.2,500 1141.2,498.8"/>
<polyline class="b" points="1135.6,483.1 1140.6,485 1141.2,498.8 1135.6,522.5"/>
<polyline class="b" points="1155,495.6 1156.2,501.2 1153.1,514.4 1144.4,521.9 1135.6,522.5"/>
<polyline class="b" points="1156.2,501.2 1169.4,502.5 1190.6,518.8 1203.8,518.8 1207.5,510.6 1213.1,513.1"/>
<polyline class="b" points="1203.8,518.8 1204.4,521.2 1213.1,524.4"/>
<polyline class="b" points="1183.8,465.6 1195,477.5 1194.4,481.2 1191.2,483.1 1191.2,487.5 1197.5,495.6 1203.1,496.2 1215,512.5"/>
<polyline class="b" points="1230,465.6 1235.6,464.4 1241.2,457.5 1251.9,455 1275,463.8 1276.9,471.9 1280,472.2"/>
<polyline class="b" points="1276.9,471.9 1280,499.4"/>
<polyline class="b" points="1236.9,402.5 1246.2,401.2 1260,403.8 1269.4,412.5 1280,411.5"/>
<polyline class="b" points="1236.9,402.5 1242.5,423.8 1242.5,430.6 1234.4,430.6"/>
<polyline class="b" points="1242.5,430.6 1247.5,430.6 1251.9,421.9 1264.4,421.9 1266.2,428.8 1280,438.8"/>
<polyline class="b" points="1235,550.6 1236.9,558.8 1257.5,561.2 1260,545.6"/>
<polyline class="b" points="1257.5,561.2 1259.4,567.5"/>
<polyline class="b" points="1198.8,626.2 1200,615 1210,602.5 1222.5,600 1245,587.5 1260,567.5 1256.2,560"/>
<polyline class="b" points="1245,587.5 1252.5,605"/>
<polyline class="b" points="1256.2,560 1236.2,557.5 1233.8,550"/>
<polyline class="b" points="1280,316.2 1285,315.5 1314.5,328.8 1323.8,320.5 1351.2,346.2 1371.2,344.5 1380,351.8 1393.8,353.2 1400,353.2"/>
<polyline class="b" points="1393.8,353.2 1388.8,368.8 1377,370 1365.5,394.5 1374.5,405.5 1367.5,413.8 1356.2,430 1346.2,429.5 1341.2,436.2"/>
<polyline class="b" points="1400,353.2 1412.5,336.2 1437.5,345.8 1448,335.8 1441.2,329.5 1447,321.8 1463.8,327 1468.8,335 1478.8,336.2 1485,332.5 1493.8,332 1498.8,335.8 1515,337 1526.2,325.5 1542.5,328 1555,325 1558.8,312.5 1553.8,300"/>
<polyline class="b" points="1400,353.2 1403.8,362 1410,362.5 1424.5,385.8 1450,387.5 1454.5,397 1468.8,402 1482.5,394.5 1492.5,401.2 1506.8,400.5 1528.2,391.2 1548.8,363.8 1555,362.5 1560,350 1568.8,348.8 1568.8,345.8 1557.5,340.8 1550,344.5 1543.2,342.5 1542.5,328"/>
<polyline class="b" points="1586.2,300 1598.8,315 1625,330.5 1635,330 1635,323.8 1642.5,318.8 1643.8,351.2 1636.2,352.5 1635.8,362.5 1640,366.2 1640,373.8 1636.2,376.2 1632.5,387.5 1626.2,388 1617.5,397.5 1618.8,403.8"/>
<polyline class="b" points="1625,418.8 1633.8,419.5 1640,412.5"/>
<polyline class="b" points="1280,412 1290,410 1300,426.2 1313.8,427.5 1321.2,420.8 1323.8,413.8 1332.5,417.5 1337.5,409.2 1367.5,413.8"/>
<polyline class="b" points="1321.2,420.8 1333.8,428.8 1341.2,436.2 1342.5,442.5 1350,445 1353.8,452.5 1346.2,455 1340,451.2 1338.8,457 1333.8,456.2 1331.2,447.5 1326.2,450 1323.8,456.2 1315,457 1314.5,443.8 1309.5,441.8 1318.8,430 1325,431.2 1320,436.2 1323.8,438.8 1341.2,436.2"/>
<polyline class="b" points="1280,438.8 1305,450 1307,457 1315,457"/>
<polyline class="b" points="1353.8,452.5 1337.5,462.5 1341.2,470 1333.8,480 1331.2,492.5 1318.8,503.8 1316.2,512.5 1296.2,519.5 1285,506.2 1287.5,502.5 1280,498.8"/>
<polyline class="b" points="1280,472.5 1291.2,472.5 1306.2,457"/>
<polyline class="b" points="1296.2,519.5 1300.5,528.8 1292.5,533.8 1292,541.2"/>
<polyline class="b" points="1353.8,452.5 1361.2,453.8 1366.2,460 1373.8,472"/>
<polyline class="b" points="1488.8,507.5 1495,508.8 1502.5,520 1497.5,530 1500,538.8 1510,546.2 1511.2,552.5 1521.2,560"/>
<polyline class="b" points="1488,515 1480,522.5 1478.8,543.8 1472.5,551.2 1473,561.2 1469.2,562.5"/>
<polyline class="b" points="1531.2,546.2 1540,541.2 1546.2,542 1557.5,553.8"/>
<polyline class="b" points="1523.8,552.5 1530,547.5 1531.2,546.2"/>
<polyline class="b" points="1245.5,361 1257,352.5 1248,345 1249,331 1287,316"/>
<polyline class="b" points="1553,300 1553,295 1558,291.5 1578,291.5 1585.5,300"/>
</g>
<g id="curve">
<path class="c" stroke="#00c81e" stroke-width="1.8" d="M987.8,366.5 C1205.7,344.5 1427.6,433.5 1523.8,591.5"/>
<path class="c" stroke="#00c81e" stroke-width="1.8" d="M987.8,366.5 C1122.6,584.1 1612.1,1008.6 1859.5,1087.5"/>
<path class="c" stroke="#00c81e" stroke-width="1.8" d="M1535.0,679.5 C1541.5,796.2 1604.8,904.2 1716.5,1003.0"/>
<path class="c" stroke="#00c81e" stroke-width="1.8" d="M1772.0,965.8 C1841.4,988.1 1857.1,993.6 1904.5,1040.0"/>
<path class="c" stroke="#eb0000" stroke-width="1.8" d="M987.8,366.5 C795.9,397.7 627.3,456.6 491.2,563.8"/>
<path class="c" stroke="#eb0000" stroke-width="1.8" d="M485.6,559.8 C449.9,572.0 436.5,597.9 444.4,636.9"/>
<path class="c" stroke="#eb0000" stroke-width="1.8" d="M987.8,366.5 C838.5,505.9 666.8,604.9 466.2,647.5"/>
<path class="c" stroke="#0000c8" stroke-width="1.8" d="M987.8,366.5 C927.6,534.7 957.6,767.4 1065.0,904.0"/>
<path class="c" stroke="#0000c8" stroke-width="1.8" d="M987.8,366.5 C1141.4,510.3 1279.4,611.6 1420.0,658.0"/>
<path class="c" stroke="#0000c8" stroke-width="1.8" d="M1420.0,658.0 C1388.0,584.7 1384.3,579.1 1380.0,512.5"/>
<path class="c" stroke="#0000c8" stroke-width="1.8" d="M1412.0,513.0 C1327.8,724.1 1315.8,731.7 1109.5,861.0"/>
</g>
</svg></body></html>
